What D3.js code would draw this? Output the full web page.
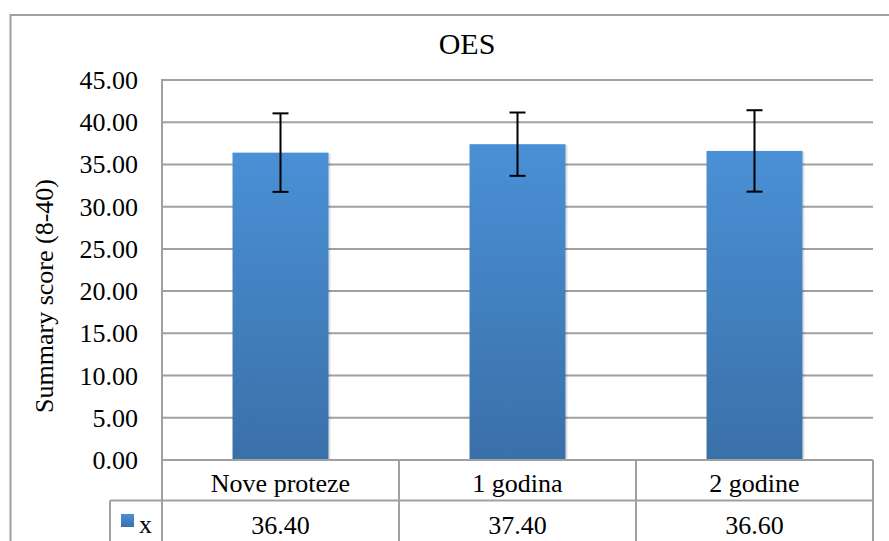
<!DOCTYPE html>
<html><head><meta charset="utf-8">
<script src="https://cdn.jsdelivr.net/npm/d3@7"></script>
<style>
html,body{margin:0;padding:0;background:#fff;}
</style></head>
<body>
<svg id="c" width="889" height="541"></svg>
<script>
const categories = ["Nove proteze", "1 godina", "2 godine"];
const values = [36.40, 37.40, 36.60];
const errors = [4.65, 3.75, 4.82];
const yTicks = [0, 5, 10, 15, 20, 25, 30, 35, 40, 45];
const seriesName = "x";
const title = "OES";
const yLabel = "Summary score (8-40)";

const svg = d3.select("#c");
const L = 162, R = 873, T = 80, B = 460;
const grid = "#a0a0a0";
const serif = sel => sel.style("font-family", '"Liberation Serif"');

// outer chart border
svg.append("rect").attr("x", 10.5).attr("y", 15).attr("width", 900).attr("height", 600)
  .attr("fill", "#fff").attr("stroke", grid).attr("stroke-width", 2);

const defs = svg.append("defs");
const grad = defs.append("linearGradient").attr("id", "bg").attr("x1", 0).attr("y1", 0).attr("x2", 0).attr("y2", 1);
grad.append("stop").attr("offset", "0%").attr("stop-color", "#4a90d6");
grad.append("stop").attr("offset", "100%").attr("stop-color", "#3a70a8");

const y = d3.scaleLinear().domain([0, 45]).range([B, T]);
const x = d3.scaleBand().domain(categories).range([L, R]).paddingInner(0).paddingOuter(0);
const bw = x.bandwidth() * 0.405;

// gridlines
svg.append("g").selectAll("line").data(yTicks).join("line")
  .attr("x1", L).attr("x2", R).attr("y1", d => y(d)).attr("y2", d => y(d))
  .attr("stroke", grid).attr("stroke-width", 2);
svg.append("line").attr("x1", L).attr("x2", L).attr("y1", T - 1).attr("y2", B).attr("stroke", grid).attr("stroke-width", 2);

// y tick labels
svg.append("g").selectAll("text").data(yTicks).join("text")
  .attr("x", 138).attr("y", d => y(d) + 9).attr("text-anchor", "end")
  .call(serif).attr("font-size", 26).text(d => d.toFixed(2));

// bar shadows
svg.append("g").selectAll("rect").data(values).join("rect")
  .attr("x", (d, i) => x(categories[i]) + (x.bandwidth() - bw) / 2 + 1)
  .attr("width", bw + 1)
  .attr("y", d => y(d) + 1).attr("height", d => B - y(d) - 1)
  .attr("fill", "#000").attr("opacity", 0.12);
// bars
svg.append("g").selectAll("rect").data(values).join("rect")
  .attr("x", (d, i) => x(categories[i]) + (x.bandwidth() - bw) / 2)
  .attr("width", bw)
  .attr("y", d => y(d)).attr("height", d => B - y(d))
  .attr("fill", "url(#bg)");

// error bars
const eb = svg.append("g").attr("stroke", "#000").attr("stroke-width", 2);
values.forEach((v, i) => {
  const cx = x(categories[i]) + x.bandwidth() / 2;
  eb.append("line").attr("x1", cx).attr("x2", cx).attr("y1", y(v + errors[i])).attr("y2", y(v - errors[i]));
  [v + errors[i], v - errors[i]].forEach(e => {
    eb.append("line").attr("x1", cx - 8).attr("x2", cx + 8).attr("y1", y(e)).attr("y2", y(e));
  });
});

// data table
const rowH = 40.5;
const tb = svg.append("g").attr("stroke", grid).attr("stroke-width", 2).attr("fill", "none");
tb.append("line").attr("x1", L).attr("x2", R).attr("y1", B).attr("y2", B);
tb.append("line").attr("x1", 110).attr("x2", R).attr("y1", B + rowH).attr("y2", B + rowH);
tb.append("line").attr("x1", 110).attr("x2", 110).attr("y1", B + rowH).attr("y2", 560);
[L, ...categories.map(c => x(c) + x.bandwidth())].forEach(xx => {
  tb.append("line").attr("x1", xx).attr("x2", xx).attr("y1", B).attr("y2", 560);
});
svg.append("g").selectAll("text").data(categories).join("text")
  .attr("x", d => x(d) + x.bandwidth() / 2).attr("y", B + 32)
  .attr("text-anchor", "middle").call(serif).attr("font-size", 26).text(d => d);
svg.append("g").selectAll("text").data(values).join("text")
  .attr("x", (d, i) => x(categories[i]) + x.bandwidth() / 2).attr("y", B + rowH + 33)
  .attr("text-anchor", "middle").call(serif).attr("font-size", 26).text(d => d.toFixed(2));
// legend key
svg.append("rect").attr("x", 121).attr("y", 514).attr("width", 13).attr("height", 13).attr("fill", "url(#bg)");
svg.append("text").attr("x", 139).attr("y", 533).call(serif).attr("font-size", 26).text(seriesName);

// title
svg.append("text").attr("x", 467).attr("y", 54).attr("text-anchor", "middle")
  .call(serif).attr("font-size", 30).text(title);
// y label
svg.append("text").attr("transform", "translate(53,296) rotate(-90)").attr("text-anchor", "middle")
  .call(serif).attr("font-size", 26).text(yLabel);
</script>
</body></html>
